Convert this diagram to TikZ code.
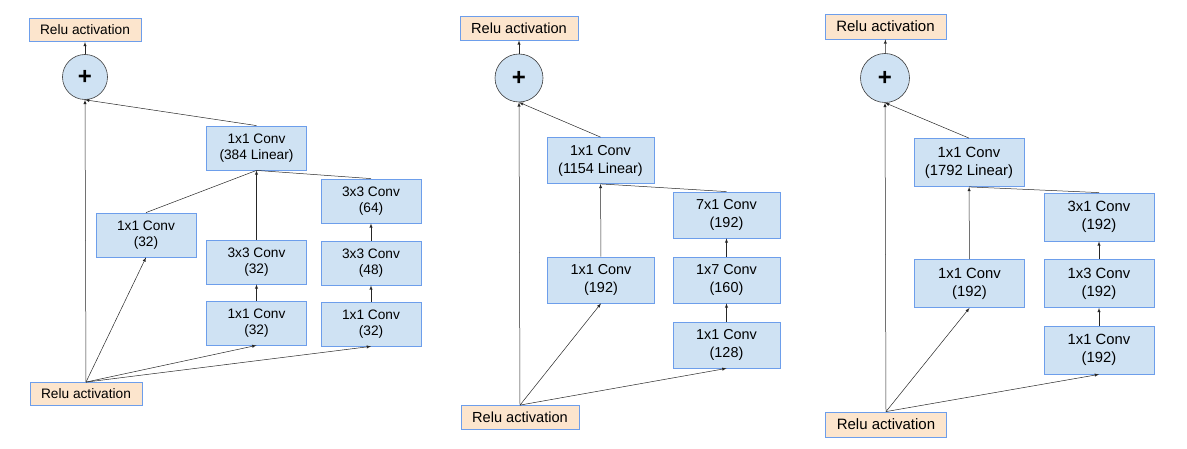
\documentclass[tikz,border=0pt]{standalone}
\usepackage{fontspec}
\setmainfont{Liberation Sans}
\usepackage{tikz}
\definecolor{boxfill}{HTML}{CFE2F3}
\definecolor{boxline}{HTML}{6D9EEB}
\definecolor{relufill}{HTML}{FCE5CD}
\definecolor{ringline}{HTML}{3C3C3C}
\tikzstyle{every edge} = [draw,black!85,line width=.5pt,-latex]
\tikzstyle{conv} = [draw=boxline,fill=boxfill,rectangle,align=center,inner sep=0pt,line width=.8pt]
\tikzstyle{relu} = [draw=boxline,fill=relufill,rectangle,inner sep=0pt,line width=.8pt]
\tikzstyle{add} = [draw=ringline,fill=boxfill,circle,inner sep=0pt,line width=.6pt,font=\bfseries\fontsize{24}{24}\selectfont]

\begin{document}
\begin{tikzpicture}[x=1pt,y=-1pt]
\useasboundingbox (0,0) rectangle (1187,449);

% first block
\begin{scope}[conv/.append style={minimum width=100pt,minimum height=44pt,font=\fontsize{13.7}{16}\selectfont},
  relu/.append style={minimum width=112pt,minimum height=23pt,font=\fontsize{13.7}{16}\selectfont},
  add/.append style={minimum size=45pt}]
\node[relu] (ra1) at (85,30) {Relu activation};
\node[add] (pa) at (85,77) {+};
\node[conv] (a1) at (256.5,148) {1x1 Conv\\(384 Linear)};
\node[conv] (a2) at (146,235) {1x1 Conv\\(32)};
\node[conv] (a3) at (256.5,262) {3x3 Conv\\(32)};
\node[conv] (a4) at (256.5,323) {1x1 Conv\\(32)};
\node[conv] (a5) at (371,201) {3x3 Conv\\(64)};
\node[conv] (a6) at (371,263) {3x3 Conv\\(48)};
\node[conv] (a7) at (371,324) {1x1 Conv\\(32)};
\node[relu] (ra0) at (86,394) {Relu activation};

\draw (ra0.north) edge (pa.south);
\draw (ra0.north) edge (a2.south);
\draw (ra0.north) edge (a4.south);
\draw (ra0.north) edge (a7.south);
\draw (a4) edge (a3);
\draw (a7) edge (a6);
\draw (a6) edge (a5);
\draw (a3) edge (a1);
\draw (a2.north) edge[-] (a1.south);
\draw (a5.north) edge[-] (a1.south);
\draw (a1.north) edge (pa.south);
\draw (pa) edge (ra1);
\end{scope}

% second block
\begin{scope}[conv/.append style={minimum width=107pt,minimum height=46pt,font=\fontsize{14.4}{18}\selectfont},
  relu/.append style={minimum width=118pt,minimum height=24pt,font=\fontsize{14.6}{18}\selectfont},
  add/.append style={minimum size=48pt}]
\node[relu] (rb1) at (519,28) {Relu activation};
\node[add] (pb) at (519,78) {+};
\node[conv] (b1) at (600.5,160.5) {1x1 Conv\\(1154 Linear)};
\node[conv] (b2) at (601,280) {1x1 Conv\\(192)};
\node[conv] (b3) at (726.5,215) {7x1 Conv\\(192)};
\node[conv] (b4) at (726.5,280) {1x7 Conv\\(160)};
\node[conv] (b5) at (726.5,345) {1x1 Conv\\(128)};
\node[relu] (rb0) at (520,417.5) {Relu activation};

\draw (rb0.north) edge (pb.south);
\draw (rb0.north) edge (b2.south);
\draw (rb0.north) edge (b5.south);
\draw (b5) edge (b4);
\draw (b4) edge (b3);
\draw (b2) edge (b1);
\draw (b3.north) edge[-] (b1.south);
\draw (b1.north) edge (pb.south);
\draw (pb) edge (rb1);
\end{scope}

% third block
\begin{scope}[conv/.append style={minimum width=110pt,minimum height=48pt,font=\fontsize{14.8}{18}\selectfont},
  relu/.append style={minimum width=121pt,minimum height=25pt,font=\fontsize{15}{18}\selectfont},
  add/.append style={minimum size=49pt}]
\node[relu] (rc1) at (885.5,26.5) {Relu activation};
\node[add] (pc) at (885,78) {+};
\node[conv] (c1) at (969,162.5) {1x1 Conv\\(1792 Linear)};
\node[conv] (c2) at (969.5,283.5) {1x1 Conv\\(192)};
\node[conv] (c3) at (1099,217) {3x1 Conv\\(192)};
\node[conv] (c4) at (1099,283.5) {1x3 Conv\\(192)};
\node[conv] (c5) at (1099,350) {1x1 Conv\\(192)};
\node[relu] (rc0) at (886,424.5) {Relu activation};

\draw (rc0.north) edge (pc.south);
\draw (rc0.north) edge (c2.south);
\draw (rc0.north) edge (c5.south);
\draw (c5) edge (c4);
\draw (c4) edge (c3);
\draw (c2) edge (c1);
\draw (c3.north) edge[-] (c1.south);
\draw (c1.north) edge (pc.south);
\draw (pc) edge (rc1);
\end{scope}

\end{tikzpicture}
\end{document}
